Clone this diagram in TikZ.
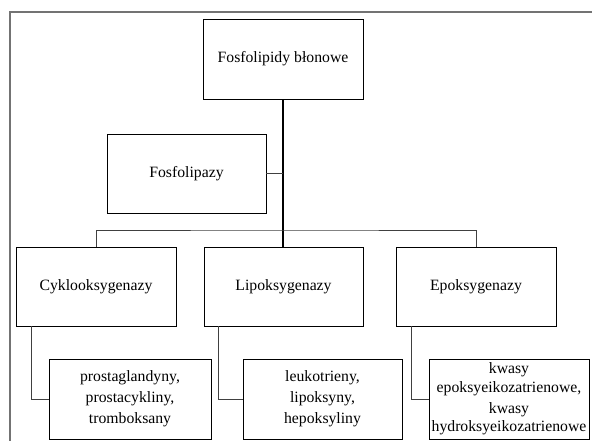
\documentclass[tikz,border=0pt]{standalone}
\usepackage{fontspec}
\setmainfont{Liberation Serif}
\begin{document}
\begin{tikzpicture}[x=1bp,y=-1bp,
  box/.style={draw=black, line width=0.8bp, minimum width=160bp, minimum height=80bp,
    inner sep=0pt, align=center, font=\fontsize{15.8}{21}\selectfont},
  link/.style={draw=black!75, line width=0.9bp},
  trunk/.style={draw=black, line width=1.4bp},
  frame/.style={draw=black!55, line width=1.6bp}]
\useasboundingbox (0,0) rectangle (592,441);
\draw[frame] (10,441) -- (10,12) -- (592,12);

\node[box] (top) at (283,59) {Fosfolipidy błonowe};
\node[box, minimum width=159bp, minimum height=79bp] (fos) at (186.5,173.5) {Fosfolipazy};
\node[box, minimum height=79bp] (cyk) at (96,286.5) {Cyklooksygenazy};
\node[box, minimum width=159bp, minimum height=79bp] (lip) at (283.5,286.5) {Lipoksygenazy};
\node[box, minimum height=79bp] (epo) at (476,286.5) {Epoksygenazy};
\node[box, minimum width=162bp] (pro) at (130,399) {prostaglandyny,\\prostacykliny,\\tromboksany};
\node[box, minimum width=159bp] (leu) at (322.5,399) {leukotrieny,\\lipoksyny,\\hepoksyliny};
\node[box, font=\fontsize{15.8}{18.5}\selectfont] (kwa) at (509,399) {kwasy\\epoksyeikozatrienowe,\\[3bp]kwasy\\hydroksyeikozatrienowe};

\coordinate (barM) at (283,230);
\draw[trunk] (top.south) -- (top.south |- lip.north);
\draw[link] (fos.east) -- (fos.east -| top.south);
\draw[link] (cyk.north) |- (barM) -| (epo.north);
\draw[link] ([xshift=16bp]cyk.south west) |- (pro.west);
\draw[link] ([xshift=15bp]lip.south west) |- (leu.west);
\draw[link] ([xshift=16bp]epo.south west) |- (kwa.west);
\end{tikzpicture}
\end{document}
